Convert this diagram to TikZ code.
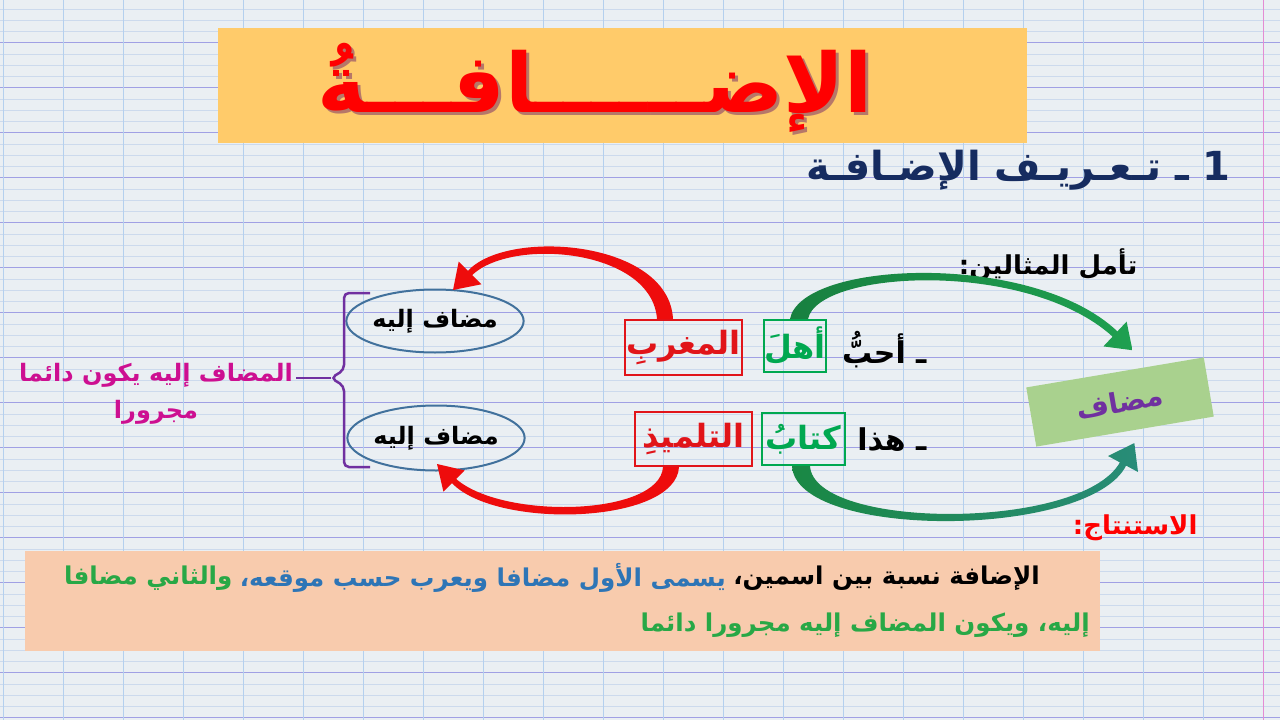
\documentclass[tikz,border=0pt]{standalone}
\usepackage{fontspec}
\usetikzlibrary{positioning,shapes.geometric}
\newfontfamily\arabicfont[Script=Arabic]{DejaVu Sans}
\TeXXeTstate=1
\definecolor{paper}{RGB}{234,239,243}
\definecolor{rulelight}{RGB}{204,218,237}
\definecolor{rulepurple}{RGB}{160,160,228}
\definecolor{rulevert}{RGB}{180,208,238}
\definecolor{rulepink}{RGB}{228,140,212}
\definecolor{titlefill}{RGB}{255,203,106}
\definecolor{titlered}{RGB}{255,0,0}
\definecolor{titleshadow}{RGB}{150,60,40}
\definecolor{navy}{RGB}{22,44,96}
\definecolor{boxgreen}{RGB}{0,168,80}
\definecolor{boxred}{RGB}{225,20,25}
\definecolor{ellblue}{RGB}{65,113,156}
\definecolor{bracepurple}{RGB}{112,48,160}
\definecolor{notemagenta}{RGB}{205,15,145}
\definecolor{mudaffill}{RGB}{169,209,142}
\definecolor{arrowred}{RGB}{238,12,12}
\definecolor{arrowgreen}{RGB}{30,160,80}
\definecolor{arrowteal}{RGB}{40,140,120}
\definecolor{conclfill}{RGB}{248,203,173}
\definecolor{conclblue}{RGB}{46,117,182}
\definecolor{conclgreen}{RGB}{40,168,70}

\begin{document}
\begin{tikzpicture}[x=1pt,y=-1pt,
  arab/.style={font={\arabicfont\bfseries\fontsize{#1}{#1}\selectfont}},
  wordbox/.style={draw=#1, text=#1, line width=2pt, inner sep=0pt,
    minimum height=52pt, arab=32},
  mudafilayh/.style={ellipse, draw=ellblue, line width=2pt, inner sep=0pt,
    minimum width=160pt, minimum height=63pt, arab=24},
  conclpart/.style={inner sep=0pt, arab=24.5, anchor=east},
  brace/.style={draw=bracepurple, line width=2.5pt, rounded corners=5pt}]
\useasboundingbox (0,0) rectangle (1280,720);
\fill[paper] (0,0) rectangle (1280,720);
% squared paper
\foreach \i in {-3,...,60}
  \draw[rulelight, line width=0.8pt] (0,{42.7+11.25*\i}) -- ++(1280,0);
\foreach \i in {0,...,15}
  \draw[rulepurple, line width=1.4pt] (0,{42.7+45*\i}) -- ++(1280,0);
\foreach \i in {0,...,20}
  \draw[rulevert, line width=1.2pt] ({3.5+60*\i},0) -- ++(0,720);
\draw[rulepink, line width=1.4pt] (1263.5,0) -- ++(0,720);

% title
\node[fill=titlefill, minimum width=809pt, minimum height=115pt, inner sep=0pt] (title) at (622.5,85.5) {};
\node[arab=82, text=titleshadow!70] (titleshade) at (598,91) {\beginR الإضــــــافـــةُ\endR};
\node[arab=82, text=titlered] (titletxt) at (595,88) {\beginR الإضــــــافـــةُ\endR};

\node[arab=40, text=navy, anchor=east] (deftitle) at (1234,170) {\beginR 1 ـ تـعـريـف الإضـافـة\endR};
\node[arab=26, anchor=east] (tamal) at (1141,265) {\beginR تأمل المثالين:\endR};

% examples
\node[arab=30, anchor=east] (d1) at (930,350) {\beginR ـ أحبُّ\endR};
\node[wordbox=boxgreen, minimum width=60pt] (g1) at (795,346) {\beginR أهلَ\endR};
\node[wordbox=boxred, minimum width=117pt, minimum height=55pt] (r1) at (683.5,347.5) {\beginR المغربِ\endR};
\node[arab=30, anchor=east] (d2) at (930,440) {\beginR ـ هذا\endR};
\node[wordbox=boxgreen, minimum width=83pt] (g2) at (803.5,439) {\beginR كتابُ\endR};
\node[wordbox=boxred, minimum width=117pt, minimum height=54pt] (r2) at (693.5,439) {\beginR التلميذِ\endR};

\node[mudafilayh] (e1) at (435,321) {\beginR مضاف إليه\endR};
\node[mudafilayh, minimum width=162pt, minimum height=65pt] (e2) at (436,438) {\beginR مضاف إليه\endR};

\node[fill=mudaffill, minimum width=180pt, minimum height=60pt, rotate=9.6,
  text=bracepurple, arab=28] (mudaf) at (1120,402) {\beginR مضاف\endR};

% brace and note
\coordinate (bracetip) at (331,378);
\draw[brace] (370,293) -- (344,293) -- (344,370) -- (bracetip) -- (344,386) -- (344,467) -- (370,467);
\node[text=notemagenta, align=center, font={\arabicfont\bfseries\fontsize{24}{37}\selectfont}] (note) at (156,394)
  {\beginR المضاف إليه يكون دائما\endR\\\beginR مجرورا\endR};
\draw[brace] (bracetip) -- (bracetip -| note.east);

% arrows
\fill[arrowred] ([xshift=-26.5pt]r1.north) .. controls (652,249) and (512,237) .. (472.1,275.1)
  -- (481.3,284.3) -- ([xshift=18pt,yshift=-1.5pt]e1.north) -- (458.7,261.7) -- (467.9,270.9)
  .. controls (507,228) and (669,240) .. ([xshift=-10.5pt]r1.north) -- cycle;
\fill[arrowred] ([xshift=-14.5pt]r2.south) .. controls (676,524) and (497,530) .. (451.9,483.1)
  -- (443.4,491.6) -- ([xshift=1pt,yshift=7.5pt]e2.south) -- (464.6,470.4) -- (456.1,478.9)
  .. controls (503,520) and (660,516) .. ([xshift=-30.5pt]r2.south) -- cycle;
\shade[left color=arrowgreen!80!black, right color=arrowgreen] ([xshift=-5pt]g1.north) .. controls (801,260) and (1033,251) .. (1117.4,331.4)
  -- (1126.6,321.6) -- ([xshift=17.5pt,yshift=22pt]mudaf.north) -- (1103.4,346.4) -- (1112.6,336.6)
  .. controls (1027,259) and (818,270) .. ([xshift=13pt]g1.north) -- cycle;
\shade[left color=arrowgreen!85!black, right color=arrowteal] ([xshift=-11.5pt]g2.south) .. controls (796,540) and (1089,539) .. (1126.1,465.6)
  -- (1138,472) -- ([xshift=9.3pt,yshift=-11.3pt]mudaf.south) -- (1108,456) -- (1119.9,462.4)
  .. controls (1081,531) and (814,530) .. ([xshift=6.5pt]g2.south) -- cycle;

% conclusion
\node[arab=26, text=titlered, anchor=east] (istintaj) at (1201,528) {\beginR الاستنتاج:\endR};
\node[fill=conclfill, minimum width=1075pt, minimum height=100pt, inner sep=0pt] (concl) at (562.5,601) {};
\node[conclpart] (c1) at (1040,578) {\beginR الإضافة نسبة بين اسمين،\endR};
\node[conclpart, text=conclblue, left=7pt of c1.west, anchor=east] (c2) {\beginR يسمى الأول مضافا ويعرب حسب موقعه،\endR};
\node[conclpart, text=conclgreen, left=7pt of c2.west, anchor=east] (c3) {\beginR والثاني مضافا\endR};
\node[conclpart, text=conclgreen] (c4) at (1090,625) {\beginR إليه، ويكون المضاف إليه مجرورا دائما\endR};
\end{tikzpicture}
\end{document}
